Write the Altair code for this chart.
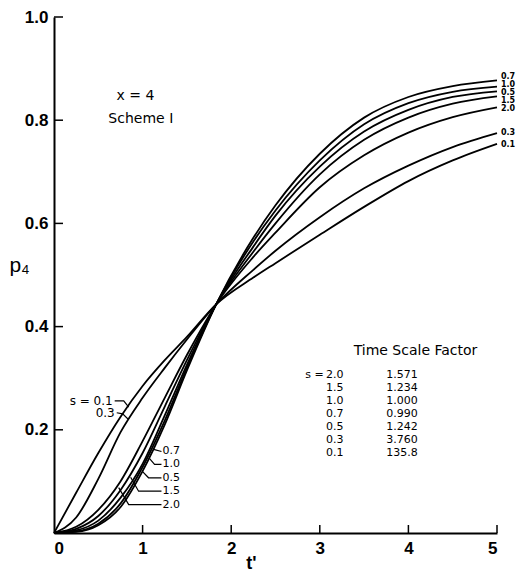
import altair as alt
import pandas as pd

# ---- data ----
t_vals = [0, 0.25, 0.5, 0.75, 1.0, 1.25, 1.5, 1.83, 2.25, 2.5, 3.0, 3.5, 4.0, 4.5, 5.0]

s_labels = ["0.1", "0.3", "0.5", "0.7", "1.0", "1.5", "2.0"]
p_s01 = [0, 0.078, 0.155, 0.225, 0.285, 0.335, 0.380, 0.443, 0.495, 0.523, 0.578, 0.632, 0.682, 0.722, 0.754]
p_s03 = [0, 0.030, 0.105, 0.195, 0.262, 0.320, 0.375, 0.443, 0.510, 0.547, 0.612, 0.668, 0.712, 0.748, 0.775]
p_s05 = [0, 0.005, 0.024, 0.068, 0.134, 0.228, 0.326, 0.443, 0.555, 0.615, 0.710, 0.778, 0.820, 0.845, 0.856]
p_s07 = [0, 0.002, 0.015, 0.050, 0.120, 0.210, 0.315, 0.443, 0.572, 0.635, 0.735, 0.805, 0.845, 0.866, 0.877]
p_s10 = [0, 0.003, 0.018, 0.057, 0.128, 0.218, 0.320, 0.443, 0.565, 0.625, 0.722, 0.792, 0.833, 0.855, 0.865]
p_s15 = [0, 0.008, 0.033, 0.083, 0.155, 0.245, 0.335, 0.443, 0.545, 0.600, 0.695, 0.762, 0.805, 0.832, 0.846]
p_s20 = [0, 0.012, 0.045, 0.100, 0.178, 0.262, 0.345, 0.443, 0.535, 0.582, 0.670, 0.732, 0.776, 0.806, 0.825]
series = [p_s01, p_s03, p_s05, p_s07, p_s10, p_s15, p_s20]

# label heights of the curve-end labels (slightly spread, as in the figure)
end_label_p = [0.752, 0.776, 0.853, 0.883, 0.868, 0.838, 0.821]

x_ticks = [0, 1, 2, 3, 4, 5]
y_ticks = [0.2, 0.4, 0.6, 0.8, 1.0]

# table: time scale factor
table_s = ["2.0", "1.5", "1.0", "0.7", "0.5", "0.3", "0.1"]
table_f = ["1.571", "1.234", "1.000", "0.990", "1.242", "3.760", "135.8"]
table_p = [0.306, 0.281, 0.256, 0.231, 0.206, 0.181, 0.156]
table_t_s = 3.07
table_t_f = 3.75

# leader-line labels at lower left
lead_names = ["0.1", "0.3", "0.7", "1.0", "0.5", "1.5", "2.0"]
lead_t = [[0.685, 0.787, 0.843], [0.708, 0.775, 0.835], [1.124, 1.213],
          [1.079, 1.135, 1.213], [1.0, 1.067, 1.213], [0.865, 0.955, 1.213],
          [0.73, 0.843, 1.213]]
lead_p = [[0.256, 0.256, 0.244], [0.233, 0.231, 0.221], [0.162, 0.158],
          [0.144, 0.133, 0.133], [0.119, 0.107, 0.107], [0.108, 0.081, 0.081],
          [0.088, 0.055, 0.055]]

# ---- tables ----
curves = pd.DataFrame([
    {"s": s, "t": tt, "p": pp}
    for s, ys in zip(s_labels, series) for tt, pp in zip(t_vals, ys)
])
ends = pd.DataFrame({"s": s_labels, "t": [t_vals[-1]] * len(s_labels), "p": end_label_p})
leaders = pd.DataFrame([
    {"g": n, "i": i, "t": a, "p": b}
    for n, ts, ps in zip(lead_names, lead_t, lead_p)
    for i, (a, b) in enumerate(zip(ts, ps))
])
lead_left = pd.DataFrame({"txt": ["s = 0.1", "0.3"], "t": [0.674, 0.697], "p": [0.256, 0.233]})
lead_right = pd.DataFrame({"txt": ["0.7", "1.0", "0.5", "1.5", "2.0"], "t": [1.225] * 5,
                           "p": [0.158, 0.133, 0.107, 0.081, 0.055]})
tab = pd.DataFrame({"s": table_s, "f": table_f, "p": table_p,
                    "ts": [table_t_s] * 7, "tf": [table_t_f] * 7})
notes_c = pd.DataFrame({"txt": ["x = 4", "Scheme I", "Time Scale Factor"],
                        "t": [0.92, 0.98, 4.08], "p": [0.846, 0.802, 0.352]})
notes_r = pd.DataFrame({"txt": ["s ="], "t": [3.045], "p": [0.306]})

FONT = "DejaVu Sans"
xs = alt.Scale(domain=[0, 5], nice=False)
ys_ = alt.Scale(domain=[0, 1], nice=False)

x_axis = alt.Axis(
    values=x_ticks, format="d", ticks=False, labelPadding=7, grid=False,
    domainColor="black", domainWidth=2, labelFont="Liberation Sans", labelFontSize=17,
    labelFontWeight="bold", labelColor="black", title="t'", titleFont="Liberation Sans",
    titleFontSize=18, titleFontWeight="bold", titleColor="black", titleX=197, titleY=30,
    titleBaseline="middle")
y_axis = alt.Axis(
    values=y_ticks, format=".1f", ticks=False, labelPadding=6, grid=False,
    domainColor="black", domainWidth=2, labelFont="Liberation Sans", labelFontSize=17,
    labelFontWeight="bold", labelColor="black", title="p₄", titleFont="Liberation Sans",
    titleFontSize=21, titleFontWeight="normal", titleColor="black", titleAngle=0,
    titleX=-35, titleY=248, titleAlign="center", titleBaseline="middle")


def X(f="t"):
    return alt.X(f + ":Q", scale=xs, axis=x_axis, title="t'")


def Y(f="p"):
    return alt.Y(f + ":Q", scale=ys_, axis=y_axis, title="p₄")


lines = alt.Chart(curves).mark_line(color="black", strokeWidth=1.8, interpolate="monotone").encode(
    x=X(), y=Y(), detail="s:N")

xtick = alt.Chart(pd.DataFrame({"v": x_ticks[1:]})).mark_rule(color="black", strokeWidth=1.5).encode(
    x=X("v"), y=alt.value(516), y2=alt.value(508))
ytick = alt.Chart(pd.DataFrame({"v": y_ticks})).mark_rule(color="black", strokeWidth=1.5).encode(
    y=Y("v"), x=alt.value(0), x2=alt.value(9))

end_lbl = alt.Chart(ends).mark_text(align="left", baseline="middle", dx=4, font=FONT,
                                   fontSize=8, fontWeight="bold", color="black").encode(
    x=X(), y=Y(), text="s:N")

lead = alt.Chart(leaders).mark_line(color="black", strokeWidth=1.2).encode(
    x=X(), y=Y(), detail="g:N", order="i:Q")

ll = alt.Chart(lead_left).mark_text(align="right", baseline="middle", dx=-1, font=FONT,
                                   fontSize=12, color="black").encode(x=X(), y=Y(), text="txt:N")
lr = alt.Chart(lead_right).mark_text(align="left", baseline="middle", font=FONT,
                                    fontSize=11, color="black").encode(x=X(), y=Y(), text="txt:N")

note_c = alt.Chart(notes_c).mark_text(align="center", baseline="middle", font=FONT,
                                      fontSize=14, color="black").encode(x=X(), y=Y(), text="txt:N")
note_r = alt.Chart(notes_r).mark_text(align="right", baseline="middle", font=FONT,
                                      fontSize=11, color="black").encode(x=X(), y=Y(), text="txt:N")

tab_s = alt.Chart(tab).mark_text(align="left", baseline="middle", font=FONT, fontSize=11,
                                 color="black").encode(x=X("ts"), y=Y(), text="s:N")
tab_f = alt.Chart(tab).mark_text(align="left", baseline="middle", font=FONT, fontSize=11,
                                 color="black").encode(x=X("tf"), y=Y(), text="f:N")

chart = alt.layer(lines, xtick, ytick, end_lbl, lead, ll, lr, note_c, note_r, tab_s, tab_f).properties(
    width=443, height=516, background="white",
    padding={"left": 0, "top": 0, "right": 0, "bottom": 0}
).configure_view(stroke=None)

chart.save("out.html", embed_options={"renderer": "svg", "actions": False})
